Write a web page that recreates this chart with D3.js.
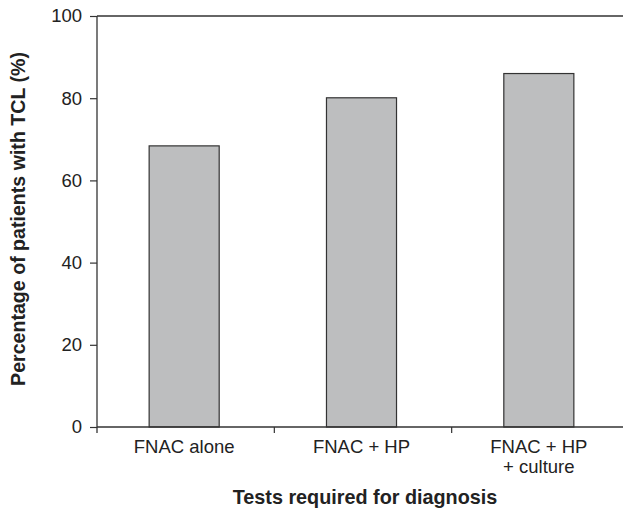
<!DOCTYPE html>
<html>
<head>
<meta charset="utf-8">
<script src="https://cdn.jsdelivr.net/npm/d3@7"></script>
<style>
  body { margin: 0; background: #fff; }
  text { font-family: "Liberation Sans", Arial, sans-serif; fill: #222; }
</style>
</head>
<body>
<div id="chart"></div>
<script>
// data
const categories = ["FNAC alone", "FNAC + HP", "FNAC + HP\n+ culture"];
const percentages = [68.4, 80.1, 86.0];
const yTicks = [0, 20, 40, 60, 80, 100];

const size = {width: 623, height: 514};
const margin = {top: 16, right: 0, bottom: 87, left: 97};
const width = size.width - margin.left - margin.right;
const height = size.height - margin.top - margin.bottom;
const axisColor = "#333";

const svg = d3.select("#chart").append("svg")
    .attr("width", size.width)
    .attr("height", size.height);

const g = svg.append("g")
    .attr("transform", "translate(" + margin.left + "," + margin.top + ")");

// bands are ~177px, so the last boundary falls just off the page
const xScale = d3.scaleBand()
    .domain(categories)
    .range([0, 532]);
const yScale = d3.scaleLinear().domain([0, 100]).range([height, 0]);
const barWidth = xScale.bandwidth() * 0.395;

// bars
g.selectAll(".bar")
    .data(percentages)
    .join("rect")
    .attr("class", "bar")
    .attr("x", (d, i) => xScale(categories[i]) + xScale.bandwidth() / 2 - barWidth / 2 - 1.5)
    .attr("y", d => yScale(d))
    .attr("width", barWidth)
    .attr("height", d => height - yScale(d))
    .attr("fill", "#bdbebf")
    .attr("stroke", axisColor)
    .attr("stroke-width", 1.2);

// top frame line
g.append("line")
    .attr("x1", 0).attr("x2", width)
    .attr("y1", 0).attr("y2", 0)
    .attr("stroke", axisColor).attr("stroke-width", 1.3);

// y axis
const yAxis = g.append("g")
    .call(d3.axisLeft(yScale).tickValues(yTicks).tickSize(7).tickPadding(8));
yAxis.select(".domain").attr("stroke", axisColor).attr("stroke-width", 1.3)
    .attr("d", "M0,0V" + (height + 6));
yAxis.selectAll(".tick line").attr("stroke", axisColor).attr("stroke-width", 1.2);
yAxis.selectAll(".tick text")
    .attr("font-size", 18.5)
    .attr("font-family", null)
    .style("fill", "#222");

// x axis: baseline plus small ticks at band boundaries
g.append("line")
    .attr("x1", 0).attr("x2", width)
    .attr("y1", height).attr("y2", height)
    .attr("stroke", axisColor).attr("stroke-width", 1.3);

g.selectAll(".xTick")
    .data(categories.slice(1))
    .join("line")
    .attr("class", "xTick")
    .attr("x1", d => xScale(d)).attr("x2", d => xScale(d))
    .attr("y1", height).attr("y2", height + 6)
    .attr("stroke", axisColor).attr("stroke-width", 1.2);

g.selectAll(".xLabel")
    .data(categories)
    .join("text")
    .attr("class", "xLabel")
    .attr("text-anchor", "middle")
    .attr("font-size", 18.5)
    .each(function (d) {
        const lines = d.split("\n");
        d3.select(this).selectAll("tspan")
            .data(lines)
            .join("tspan")
            .attr("x", xScale(d) + xScale.bandwidth() / 2 - 1.5)
            .attr("y", (l, j) => height + 26 + j * 20)
            .text(l => l);
    });

// axis titles
svg.append("text")
    .attr("x", margin.left + 268)
    .attr("y", 504)
    .attr("text-anchor", "middle")
    .attr("font-size", 19.8)
    .attr("font-weight", "bold")
    .text("Tests required for diagnosis");

svg.append("text")
    .attr("transform", "translate(25,219) rotate(-90)")
    .attr("text-anchor", "middle")
    .attr("font-size", 19.6)
    .attr("font-weight", "bold")
    .text("Percentage of patients with TCL (%)");
</script>
</body>
</html>
